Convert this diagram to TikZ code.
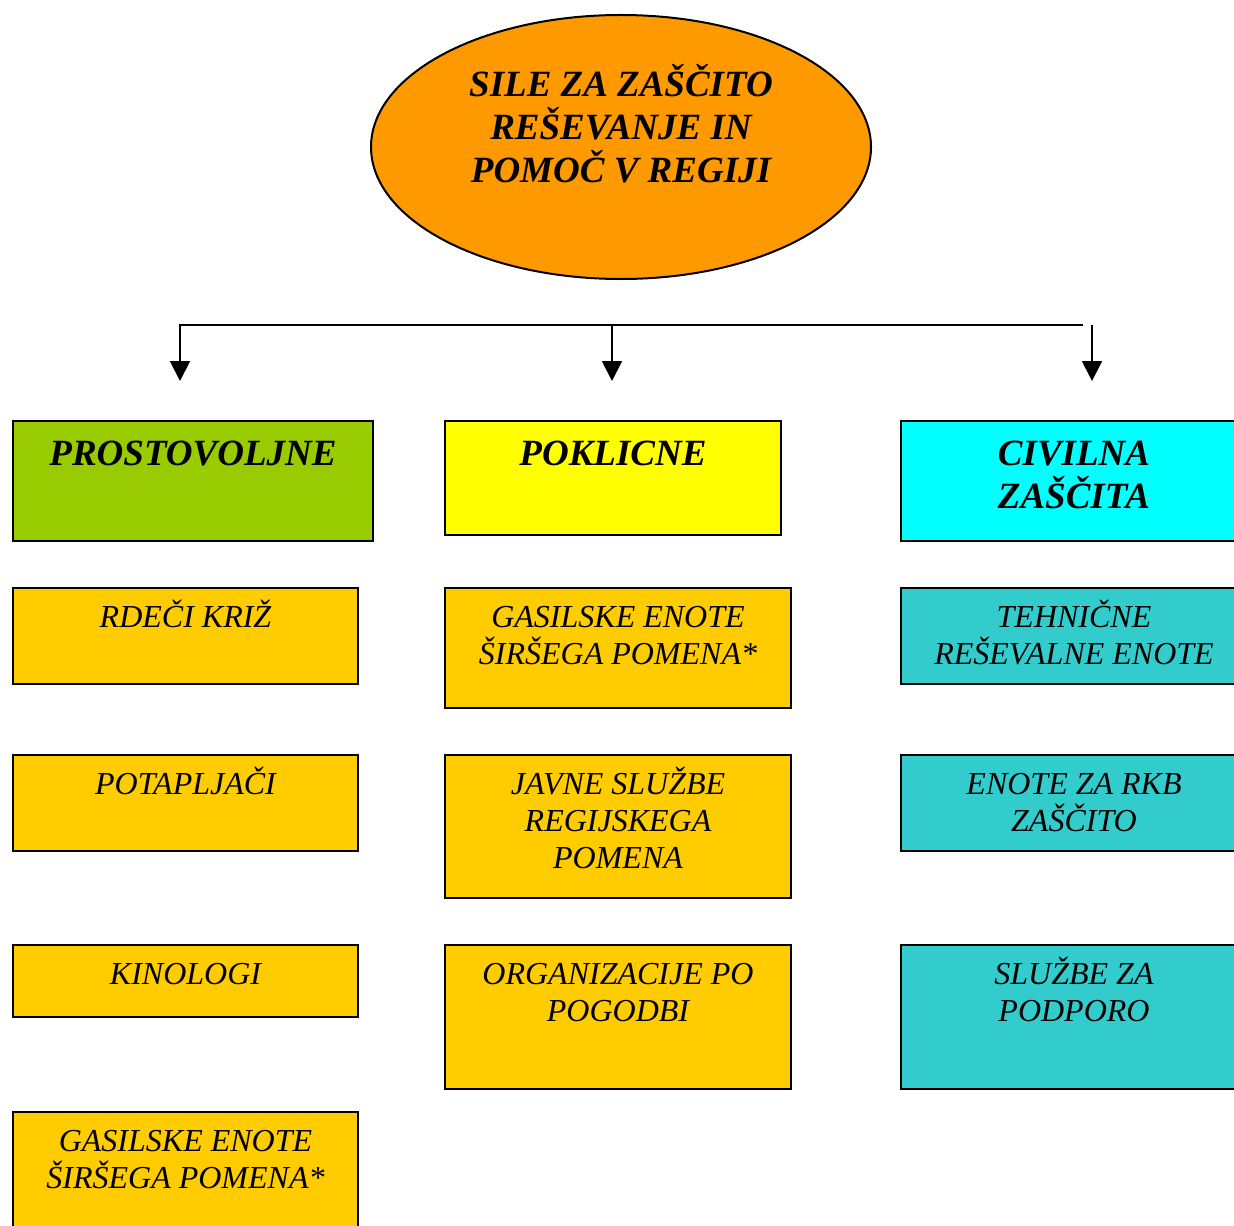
\documentclass[tikz,border=0pt]{standalone}
\usepackage{fontspec}
\setmainfont{Liberation Serif}
\usetikzlibrary{shapes.geometric,arrows.meta}

\definecolor{ellorange}{HTML}{FF9900}
\definecolor{volgreen}{HTML}{99CC00}
\definecolor{profyellow}{HTML}{FFFF00}
\definecolor{civcyan}{HTML}{00FFFF}
\definecolor{unitgold}{HTML}{FFCC00}
\definecolor{unitteal}{HTML}{33CCCC}

% text set from the top of a box: width, height, first baseline (in px)
\newcommand{\boxtext}[4]{\parbox[t][\dimexpr#2pt/2\relax][t]{\dimexpr#1pt/2\relax}{\centering\rule{0pt}{\dimexpr#3pt/2\relax}#4}}

\tikzset{
  unit/.style={draw=black, line width=1pt, anchor=north west, inner sep=0pt,
    font=\itshape\fontsize{16}{18.5}\selectfont},
  headunit/.style={unit, font=\bfseries\itshape\fontsize{18.5}{21.5}\selectfont},
  flow/.style={line width=1pt, -{Triangle[length=10pt,width=10pt]}}
}

\begin{document}
\begin{tikzpicture}[x=0.5pt, y=-0.5pt]
\useasboundingbox (0,0) rectangle (1234,1225);
\clip (0,0) rectangle (1234,1225);

% Forces of the region at the top
\node[draw, ellipse, fill=ellorange, line width=1pt, minimum width=250pt,
  minimum height=132pt, inner sep=0pt] (sile) at (621,147) {};
\node[inner sep=0pt, anchor=north, font=\bfseries\itshape\fontsize{18.5}{21.5}\selectfont]
  (siletext) at (621,61) {\boxtext{400}{140}{35}{SILE ZA ZAŠČITO\\ REŠEVANJE IN\\ POMOČ V REGIJI}};

% Bus line with arrows
\coordinate (busL) at (180,325);
\coordinate (busM) at (612,325);
\coordinate (busR) at (1083,325);
\coordinate (busC) at (1092,325);
\coordinate (tipL) at (180,381);
\coordinate (tipM) at (612,381);
\coordinate (tipC) at (1092,381);
\draw[flow] (busR) -- (busL) -- (tipL);
\draw[flow] (busM) -- (tipM);
\draw[flow] (busC) -- (tipC);

% Three kinds of forces
\node[headunit, fill=volgreen] (prost) at (12,420) {\boxtext{360}{120}{44}{PROSTOVOLJNE}};
\node[headunit, fill=profyellow] (poklic) at (444,420) {\boxtext{336}{114}{44}{POKLICNE}};
\node[headunit, fill=civcyan] (civil) at (900,420) {\boxtext{346}{120}{44}{CIVILNA\\ ZAŠČITA}};

% Volunteer units
\node[unit, fill=unitgold] (rdeci) at (12,587) {\boxtext{345}{96}{39}{RDEČI KRIŽ}};
\node[unit, fill=unitgold] (potap) at (12,754) {\boxtext{345}{96}{39}{POTAPLJAČI}};
\node[unit, fill=unitgold] (kino) at (12,944) {\boxtext{345}{72}{39}{KINOLOGI}};
\node[unit, fill=unitgold] (gasilL) at (12,1111) {\boxtext{345}{130}{39}{GASILSKE ENOTE\\ ŠIRŠEGA POMENA*}};

% Professional units
\node[unit, fill=unitgold] (gasilM) at (444,587) {\boxtext{346}{120}{39}{GASILSKE ENOTE\\ ŠIRŠEGA POMENA*}};
\node[unit, fill=unitgold] (javne) at (444,754) {\boxtext{346}{143}{39}{JAVNE SLUŽBE\\ REGIJSKEGA\\ POMENA}};
\node[unit, fill=unitgold] (organ) at (444,944) {\boxtext{346}{144}{39}{ORGANIZACIJE PO\\ POGODBI}};

% Civil protection units
\node[unit, fill=unitteal] (tehn) at (900,587) {\boxtext{346}{96}{39}{TEHNIČNE\\ REŠEVALNE ENOTE}};
\node[unit, fill=unitteal] (rkb) at (900,754) {\boxtext{346}{96}{39}{ENOTE ZA RKB\\ ZAŠČITO}};
\node[unit, fill=unitteal] (podpora) at (900,944) {\boxtext{346}{144}{39}{SLUŽBE ZA\\ PODPORO}};

\end{tikzpicture}
\end{document}
